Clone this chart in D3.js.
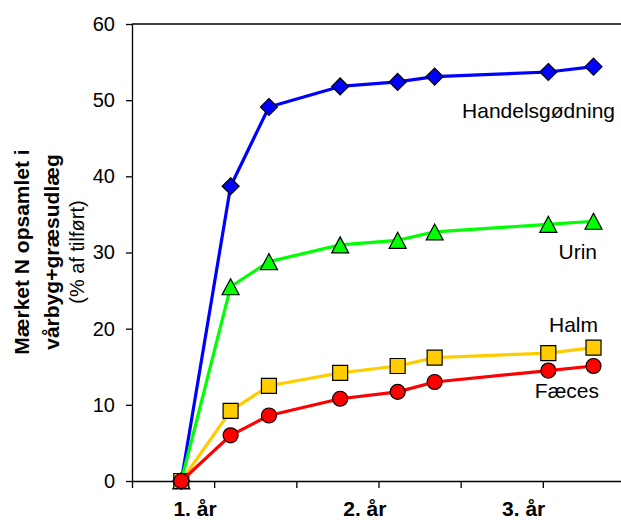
<!DOCTYPE html>
<html>
<head>
<meta charset="utf-8">
<script src="https://cdn.jsdelivr.net/npm/d3@7"></script>
<style>
  html, body { margin: 0; padding: 0; background: #fff; }
  svg { display: block; font-family: "Liberation Sans", Arial, sans-serif; }
</style>
</head>
<body>
<svg id="chart" width="621" height="520"></svg>
<script>
// Labelled N recovered in spring barley + grass undersown (% of applied)
const handelsgodning = [0, 38.7, 49.1, 51.8, 52.4, 53.1, 53.7, 54.4];
const urin           = [0, 25.5, 28.8, 31.0, 31.6, 32.7, 33.7, 34.1];
const halm           = [0, 9.2, 12.5, 14.2, 15.1, 16.2, 16.8, 17.5];
const faeces         = [0, 6.0, 8.6, 10.8, 11.7, 13.0, 14.5, 15.1];

// Sampling times (months on the time axis) for each point
const xValues = [3.6, 7.2, 10.0, 15.2, 19.4, 22.1, 30.4, 33.7];

const yTicks = [0, 10, 20, 30, 40, 50, 60];
const xTicks = [0, 6, 12, 18, 24, 30];
const yearLabels = ["1. år", "2. år", "3. år"];
const yearAt = [4.6, 17.0, 28.6];

const series = [
  { name: "Handelsgødning", values: handelsgodning, color: "#0000ff", marker: "diamond" },
  { name: "Urin",           values: urin,           color: "#00ff00", marker: "triangle" },
  { name: "Halm",           values: halm,           color: "#ffcc00", marker: "square" },
  { name: "Fæces",          values: faeces,         color: "#ff0000", marker: "circle" }
];

const svg = d3.select("#chart");
const x = d3.scaleLinear().domain([0, 36]).range([132, 625]);
const y = d3.scaleLinear().domain([0, 60]).range([481, 24]);

// Y axis
const yAxis = svg.append("g")
  .attr("transform", "translate(132,0)")
  .call(d3.axisLeft(y).tickValues(yTicks).tickSize(6).tickSizeOuter(0).tickPadding(11));
yAxis.selectAll("text").attr("font-size", 20).attr("fill", "#000")
  .attr("font-family", "Liberation Sans, Arial, sans-serif");
yAxis.selectAll("line, path").attr("stroke", "#000").attr("stroke-width", 1.3);

// X axis
const xAxis = svg.append("g")
  .attr("transform", "translate(0,481)")
  .call(d3.axisBottom(x).tickValues(xTicks).tickSize(7).tickSizeOuter(0).tickFormat(""));
xAxis.selectAll("line, path").attr("stroke", "#000").attr("stroke-width", 1.3);

// Top border of plot area
svg.append("line")
  .attr("x1", x(0)).attr("x2", 621)
  .attr("y1", y(60)).attr("y2", y(60))
  .attr("stroke", "#000").attr("stroke-width", 1.3);

// Year labels under x axis
svg.append("g").selectAll("text")
  .data(yearLabels)
  .join("text")
  .attr("x", (d, i) => x(yearAt[i]))
  .attr("y", 516)
  .attr("text-anchor", "middle")
  .attr("font-size", 21)
  .attr("font-weight", "bold")
  .text(d => d);

// Y axis title
const titleLines = [
  { text: "Mærket N opsamlet i", x: 29, bold: true },
  { text: "vårbyg+græsudlæg", x: 59, bold: true },
  { text: "(% af tilført)", x: 84, bold: false }
];
svg.append("g").selectAll("text")
  .data(titleLines)
  .join("text")
  .attr("transform", d => `translate(${d.x},252) rotate(-90)`)
  .attr("text-anchor", "middle")
  .attr("font-size", d => d.bold ? 21 : 20)
  .attr("font-weight", d => d.bold ? "bold" : "normal")
  .text(d => d.text);

// Lines and markers
const line = d3.line()
  .x(d => x(d[0]))
  .y(d => y(d[1]));

function markerPath(type) {
  switch (type) {
    case "diamond": return "M0,-8.5L8.5,0L0,8.5L-8.5,0Z";
    case "triangle": return "M0,-8L8.5,8L-8.5,8Z";
    case "square": return "M-7.5,-7.5H7.5V7.5H-7.5Z";
    default: return d3.symbol(d3.symbolCircle, Math.PI * 7.5 * 7.5)();
  }
}

series.forEach(s => {
  const pts = s.values.map((v, i) => [xValues[i], v]);
  const g = svg.append("g");
  g.append("path")
    .attr("d", line(pts))
    .attr("fill", "none")
    .attr("stroke", s.color)
    .attr("stroke-width", 3.2)
    .attr("stroke-linejoin", "round");
  g.selectAll("path.marker")
    .data(pts)
    .join("path")
    .attr("class", "marker")
    .attr("transform", d => `translate(${x(d[0])},${y(d[1])})`)
    .attr("d", markerPath(s.marker))
    .attr("fill", s.color)
    .attr("stroke", "#000")
    .attr("stroke-width", 1.2);
});

// Series labels
const seriesLabels = [
  { text: "Handelsgødning", x: 615, y: 118 },
  { text: "Urin", x: 597, y: 259 },
  { text: "Halm", x: 598, y: 332 },
  { text: "Fæces", x: 599, y: 398 }
];
svg.append("g").selectAll("text")
  .data(seriesLabels)
  .join("text")
  .attr("x", d => d.x)
  .attr("y", d => d.y)
  .attr("text-anchor", "end")
  .attr("font-size", 21)
  .attr("fill", "#000")
  .text(d => d.text);
</script>
</body>
</html>
